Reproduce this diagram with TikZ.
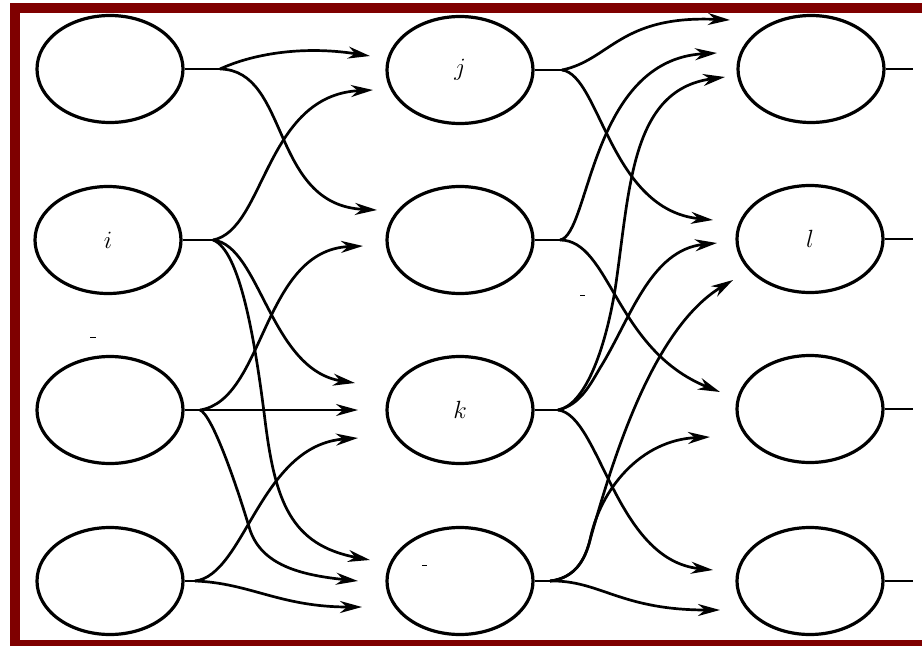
\documentclass[tikz,border=0pt]{standalone}
\usetikzlibrary{shapes.geometric,arrows.meta}
\definecolor{frame}{HTML}{7F0000}
\begin{document}
\begin{tikzpicture}[x=1pt,y=-1pt,
  unit/.style={draw,ellipse,line width=3.2pt,minimum width=146pt,minimum height=107pt,inner sep=0pt,
    font=\fontsize{24}{28}\selectfont},
  stub/.style={line width=1.8pt},
  link/.style={line width=2.7pt,-{Stealth[length=22pt,width=12pt,inset=7pt]}},
  flat/.style={line width=1.9pt,-{Stealth[length=22pt,width=12pt,inset=7pt]}},
  speck/.style={line width=0.9pt}]
\useasboundingbox (0,0) rectangle (922,646);

% frame
\fill[frame] (10,3) rectangle (922,13);
\fill[frame] (10,3) rectangle (20,646);
\fill[frame] (10,640) rectangle (922,646);

% units
\node[unit] (L1) at (110,69) {};
\node[unit] (L2) at (108,240) {$i$};
\node[unit] (L3) at (110,410) {};
\node[unit] (L4) at (110,581) {};
\node[unit] (M1) at (460,70) {$j$};
\node[unit] (M2) at (460,240) {};
\node[unit] (M3) at (460,410) {$k$};
\node[unit] (M4) at (460,581) {};
\node[unit] (R1) at (811,69) {};
\node[unit] (R2) at (810,239) {$l$};
\node[unit] (R3) at (810,409) {};
\node[unit] (R4) at (810,581) {};

% fan-out points
\coordinate (bL1) at (220,69);
\coordinate (bL2) at (213,240);
\coordinate (bL3) at (200,410);
\coordinate (bL4) at (195,581);
\coordinate (bM1) at (562,70);
\coordinate (bM2) at (560,240);
\coordinate (bM3) at (558,410);
\coordinate (bM4) at (550,581);
\coordinate (oR1) at (913,69);
\coordinate (oR2) at (913,239);
\coordinate (oR3) at (913,409);
\coordinate (oR4) at (913,581);

% arrow ends
\coordinate (aL1M1) at (370,56);
\coordinate (aL1M2) at (377,210);
\coordinate (aL2M1) at (373,90);
\coordinate (aL2M3) at (355,383);
\coordinate (aL2M4) at (370,560);
\coordinate (aL3M2) at (363,246);
\coordinate (aL3M3) at (358,410);
\coordinate (aL3M4) at (358,581);
\coordinate (aL4M3) at (358,438);
\coordinate (aL4M4) at (362,607);
\coordinate (aM1R1) at (730,20);
\coordinate (aM1R2) at (713,220);
\coordinate (aM2R1) at (717,53);
\coordinate (aM2R3) at (720,392);
\coordinate (aM3R1) at (725,77);
\coordinate (aM3R2) at (717,243);
\coordinate (aM3R4) at (713,570);
\coordinate (aM4R2) at (733,280);
\coordinate (aM4R3) at (710,437);
\coordinate (aM4R4) at (720,610);

% output stubs
\foreach \n in {L1,L2,L3,L4,M1,M2,M3,M4}
  \draw[stub] (\n.east) -- (b\n);
\foreach \n in {R1,R2,R3,R4}
  \draw[stub] (\n.east) -- (o\n);

% first layer of connections
\draw[link] (bL1) .. controls (250,55) and (300,45) .. (aL1M1);
\draw[link] (bL1) .. controls (290,70) and (270,205) .. (aL1M2);
\draw[link] (bL2) .. controls (265,230) and (265,95) .. (aL2M1);
\draw[link] (bL2) .. controls (260,245) and (270,370) .. (aL2M3);
\draw[link] (bL2) .. controls (240,250) and (255,340) .. (265,420)
                  .. controls (275,500) and (290,545) .. (aL2M4);
\draw[link] (bL3) .. controls (265,400) and (262,250) .. (aL3M2);
\draw[flat] (bL3) -- (aL3M3);
\draw[link] (bL3) .. controls (212,415) and (235,480) .. (250,530)
                  .. controls (262,565) and (300,575) .. (aL3M4);
\draw[link] (bL4) .. controls (245,575) and (260,445) .. (aL4M3);
\draw[link] (bL4) .. controls (250,583) and (280,607) .. (aL4M4);

% second layer of connections
\draw[link] (bM1) .. controls (610,60) and (620,15) .. (aM1R1);
\draw[link] (bM1) .. controls (600,75) and (610,210) .. (aM1R2);
\draw[link] (bM2) .. controls (590,235) and (590,60) .. (aM2R1);
\draw[link] (bM2) .. controls (610,240) and (615,350) .. (aM2R3);
\draw[link] (bM3) .. controls (585,405) and (605,350) .. (615,290)
                  .. controls (630,190) and (630,90) .. (aM3R1);
\draw[link] (bM3) .. controls (580,405) and (590,385) .. (600,368)
                  .. controls (630,320) and (650,250) .. (aM3R2);
\draw[link] (bM3) .. controls (600,415) and (615,560) .. (aM3R4);
\draw[link] (bM4) .. controls (575,578) and (585,560) .. (590,540)
                  .. controls (610,470) and (650,330) .. (aM4R2);
\draw[link] (bM4) .. controls (575,578) and (585,560) .. (590,540)
                  .. controls (600,490) and (640,440) .. (aM4R3);
\draw[link] (bM4) .. controls (600,580) and (620,610) .. (aM4R4);

% stray print specks
\draw[speck] (90,337) -- (96,337);
\draw[speck] (580,295) -- (585,295);
\draw[speck] (422,565) -- (427,565);
\end{tikzpicture}
\end{document}
